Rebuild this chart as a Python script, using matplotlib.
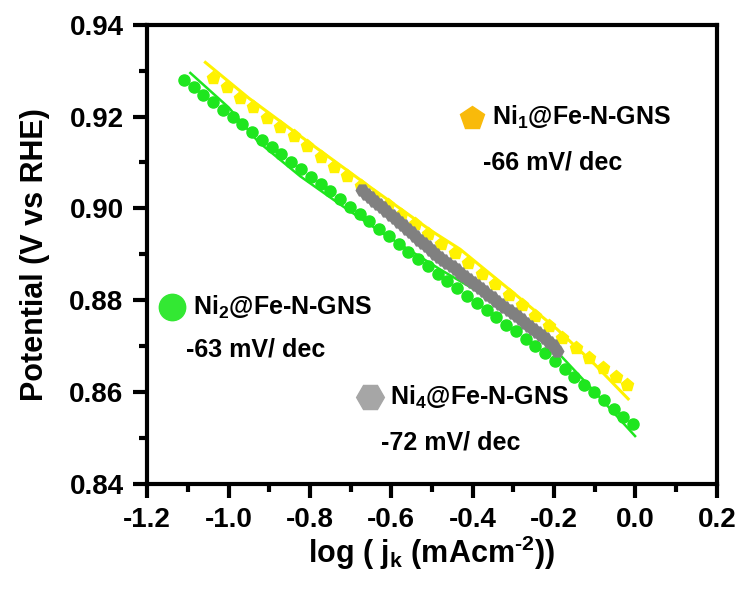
import matplotlib
matplotlib.use('Agg')
import matplotlib.pyplot as plt
from matplotlib.ticker import MultipleLocator

plt.rcParams['font.family'] = ['Liberation Sans', 'DejaVu Sans']
plt.rcParams['font.weight'] = 'bold'
plt.rcParams['axes.unicode_minus'] = False
plt.rcParams['mathtext.fontset'] = 'custom'
plt.rcParams['mathtext.rm'] = 'Liberation Sans:bold'
plt.rcParams['mathtext.it'] = 'Liberation Sans:bold'
plt.rcParams['mathtext.bf'] = 'Liberation Sans:bold'

# Ni2@Fe-N-GNS data (green dots)
ni2_x = [-1.110, -1.086, -1.062, -1.038, -1.014, -0.990, -0.966, -0.942, -0.918, -0.894,
         -0.870, -0.846, -0.822, -0.798, -0.774, -0.750, -0.726, -0.702, -0.678, -0.654,
         -0.630, -0.606, -0.582, -0.558, -0.534, -0.510, -0.486, -0.462, -0.438, -0.414,
         -0.390, -0.366, -0.342, -0.318, -0.294, -0.270, -0.246, -0.222, -0.198, -0.174,
         -0.150, -0.126, -0.102, -0.078, -0.054, -0.030, -0.006]
ni2_y = [0.9280, 0.9264, 0.9248, 0.9231, 0.9215, 0.9199, 0.9183, 0.9166, 0.9150, 0.9134,
         0.9118, 0.9102, 0.9085, 0.9069, 0.9053, 0.9037, 0.9020, 0.9004, 0.8988, 0.8972,
         0.8956, 0.8939, 0.8922, 0.8906, 0.8890, 0.8874, 0.8858, 0.8842, 0.8826, 0.8810,
         0.8794, 0.8778, 0.8763, 0.8747, 0.8732, 0.8716, 0.8700, 0.8684, 0.8667, 0.8650,
         0.8633, 0.8616, 0.8599, 0.8582, 0.8564, 0.8546, 0.8530]
# Ni2 fit curve
ni2_fit_x = [-1.094, -1.0, -0.927, -0.824, -0.72, -0.62, -0.48, -0.38, -0.301, -0.193, -0.1, -0.001]
ni2_fit_y = [0.9295, 0.9220, 0.9145, 0.9070, 0.9005, 0.8945, 0.8867, 0.8815, 0.8770, 0.8688, 0.8600, 0.8504]

# Ni1@Fe-N-GNS data (yellow pentagons)
ni1_x = [-1.038, -1.005, -0.972, -0.939, -0.906, -0.873, -0.840, -0.807, -0.774, -0.741,
         -0.708, -0.675, -0.642, -0.609, -0.576, -0.543, -0.510, -0.477, -0.444, -0.411,
         -0.378, -0.345, -0.312, -0.279, -0.246, -0.213, -0.180, -0.147, -0.114, -0.081,
         -0.048, -0.020]
ni1_y = [0.9285, 0.9264, 0.9241, 0.9220, 0.9198, 0.9177, 0.9157, 0.9135, 0.9113, 0.9091,
         0.9070, 0.9049, 0.9028, 0.9007, 0.8986, 0.8965, 0.8944, 0.8923, 0.8902, 0.8880,
         0.8858, 0.8835, 0.8812, 0.8789, 0.8766, 0.8743, 0.8718, 0.8696, 0.8674, 0.8653,
         0.8632, 0.8615]
# Ni1 fit curve
ni1_fit_x = [-1.057, -0.95, -0.8, -0.65, -0.5, -0.431, -0.3, -0.193, -0.1, -0.018]
ni1_fit_y = [0.9318, 0.9240, 0.9142, 0.9045, 0.8950, 0.8911, 0.8816, 0.8737, 0.8660, 0.8585]

# Ni4@Fe-N-GNS data (gray hexagons)
ni4_x = [-0.672, -0.662, -0.652, -0.642, -0.632, -0.622, -0.612, -0.602, -0.592, -0.582,
         -0.572, -0.562, -0.552, -0.542, -0.532, -0.522, -0.512, -0.502, -0.492, -0.482,
         -0.472, -0.462, -0.452, -0.442, -0.432, -0.422, -0.412, -0.402, -0.392, -0.382,
         -0.372, -0.362, -0.352, -0.342, -0.332, -0.322, -0.312, -0.302, -0.292, -0.282,
         -0.272, -0.262, -0.252, -0.242, -0.232, -0.222, -0.212, -0.202, -0.192]
ni4_y = [0.9040, 0.9032, 0.9025, 0.9017, 0.9009, 0.9002, 0.8994, 0.8986, 0.8978, 0.8971,
         0.8963, 0.8955, 0.8948, 0.8940, 0.8932, 0.8925, 0.8917, 0.8909, 0.8901, 0.8894,
         0.8887, 0.8880, 0.8874, 0.8867, 0.8860, 0.8853, 0.8846, 0.8840, 0.8833, 0.8826,
         0.8819, 0.8812, 0.8806, 0.8799, 0.8792, 0.8785, 0.8778, 0.8772, 0.8765, 0.8758,
         0.8751, 0.8744, 0.8738, 0.8731, 0.8724, 0.8717, 0.8710, 0.8702, 0.8690]

labels = ['Ni$_1$@Fe-N-GNS', 'Ni$_2$@Fe-N-GNS', 'Ni$_4$@Fe-N-GNS']
slopes = ['-66 mV/ dec', '-63 mV/ dec', '-72 mV/ dec']

fig = plt.figure(figsize=(7.36, 5.90), dpi=100)
ax = fig.add_axes([0.2, 0.18, 0.774, 0.778])

ax.plot(ni1_x, ni1_y, linestyle='none', marker='p', markersize=9.5, color='#FFF200', zorder=2)
ax.plot(ni1_fit_x, ni1_fit_y, '-', color='#FFF200', linewidth=2.2, zorder=3)
ax.plot(ni2_x, ni2_y, linestyle='none', marker='o', markersize=8, color='#1EE61E', zorder=2)
ax.plot(ni2_fit_x, ni2_fit_y, '-', color='#1EE61E', linewidth=1.8, zorder=3)
ax.plot(ni4_x, ni4_y, linestyle='none', marker='H', markersize=9, color='#808080', zorder=4)

# legend-like annotations
ax.plot([-0.401], [0.9198], marker='p', markersize=18, color='#F9BA0A', clip_on=False)
ax.text(-0.352, 0.9198, labels[0], fontsize=18, fontweight='bold', va='center')
ax.text(-0.374, 0.9100, slopes[0], fontsize=18, fontweight='bold', va='center')

ax.plot([-1.139], [0.8785], marker='o', markersize=19, color='#33E833', clip_on=False)
ax.text(-1.087, 0.8785, labels[1], fontsize=18, fontweight='bold', va='center')
ax.text(-1.104, 0.8693, slopes[1], fontsize=18, fontweight='bold', va='center')

ax.plot([-0.652], [0.8589], marker='H', markersize=20, color='#A6A6A6', clip_on=False)
ax.text(-0.603, 0.8589, labels[2], fontsize=18, fontweight='bold', va='center')
ax.text(-0.625, 0.8491, slopes[2], fontsize=18, fontweight='bold', va='center')

ax.set_xlim(-1.2, 0.2)
ax.set_ylim(0.84, 0.94)
ax.xaxis.set_major_locator(MultipleLocator(0.2))
ax.xaxis.set_minor_locator(MultipleLocator(0.1))
ax.yaxis.set_major_locator(MultipleLocator(0.02))
ax.yaxis.set_minor_locator(MultipleLocator(0.01))
ax.xaxis.set_major_formatter(plt.FormatStrFormatter('%.1f'))
ax.yaxis.set_major_formatter(plt.FormatStrFormatter('%.2f'))

for s in ax.spines.values():
    s.set_linewidth(3)
ax.tick_params(which='both', direction='out', width=3, top=False, right=False)
ax.tick_params(which='major', length=10, labelsize=20, pad=7)
ax.tick_params(which='minor', length=6)
for lab in ax.get_xticklabels() + ax.get_yticklabels():
    lab.set_fontweight('bold')

ax.set_xlabel(r'log ( j$_k$ (mAcm$^{\text{-2}}$))', fontsize=22, fontweight='bold', labelpad=0)
ax.set_ylabel('Potential (V vs RHE)', fontsize=22, fontweight='bold', labelpad=14)

plt.savefig('out.png', dpi=100)
